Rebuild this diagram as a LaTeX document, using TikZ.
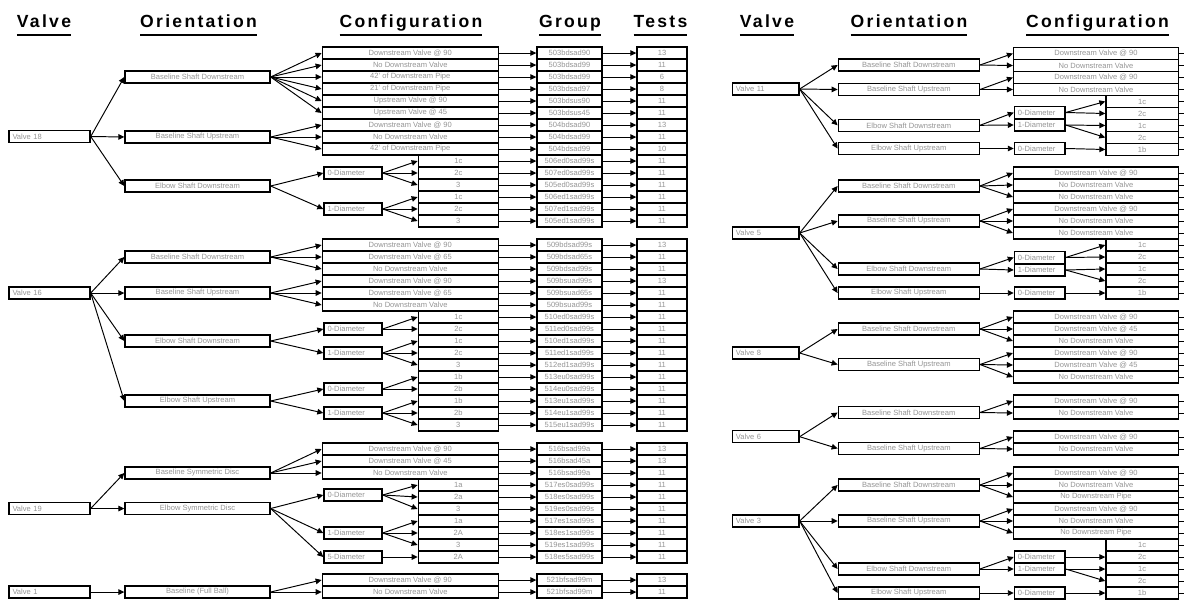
\documentclass[tikz,border=0pt]{standalone}
\usepackage{fontspec}
\setmainfont{Liberation Sans}
\newfontfamily\hdrfont[LetterSpace=13]{Liberation Sans}
\usetikzlibrary{arrows.meta}
\definecolor{boxtext}{gray}{0.58}
\newcommand{\hdr}[1]{\setbox0=\hbox{\hdrfont\bfseries #1}%
  \rlap{\rule[-5.2pt]{\wd0}{1.2pt}}\box0}
\tikzset{
  box/.style={draw, line width=0.8pt, inner sep=0pt, minimum height=0.24cm,
    font=\fontsize{4.3}{5}\selectfont, text=boxtext},
  lvalve/.style={box, text width=1.48cm, align=left, inner xsep=2pt},
  rvalve/.style={box, text width=1.19cm, align=left, inner xsep=2pt},
  ldiam/.style={box, text width=1.02cm, align=left, inner xsep=2pt},
  rdiam/.style={box, text width=0.87cm, align=left, inner xsep=2pt},
  lori/.style={box, minimum width=2.9cm},
  rori/.style={box, minimum width=2.82cm},
  conf/.style={box, anchor=east, minimum width=#1*0.02cm},
  grp/.style={box, minimum width=1.3cm},
  tst/.style={box, minimum width=1cm},
  arr/.style={-{Triangle[length=3.4pt,width=3.2pt]}, line width=0.55pt},
  colhead/.style={anchor=base, inner sep=0pt, font=\fontsize{10}{12}\selectfont}
}
\begin{document}
\begin{tikzpicture}[x=0.02cm,y=-0.02cm]
  \useasboundingbox (0,0) rectangle (1184,602);

  \node[colhead] (hvalve) at (44,27) {\hdr{Valve}};
  \node[colhead] (horient) at (198.5,27) {\hdr{Orientation}};
  \node[colhead] (hconf) at (411,27) {\hdr{Configuration}};
  \node[colhead] (hgroup) at (570,27) {\hdr{Group}};
  \node[colhead] (htests) at (660.5,27) {\hdr{Tests}};
  \node[colhead] (hvalveb) at (767,27) {\hdr{Valve}};
  \node[colhead] (horientb) at (909,27) {\hdr{Orientation}};
  \node[colhead] (hconfb) at (1097.5,27) {\hdr{Configuration}};

  % Valve 18
  \node[lvalve] (v18) at (49.5,136.5) {Valve 18};
  \node[lori] (ao1) at (197.5,77) {Baseline Shaft Downstream};
  \node[lori] (ao2) at (197.5,137) {Baseline Shaft Upstream};
  \node[lori] (ao3) at (197.5,186) {Elbow Shaft Downstream};
  \foreach \w/\txt/\grp/\tst [count=\i] in {
    176/Downstream Valve @ 90/503bdsad90/13,
    176/No Downstream Valve/503bdsad99/11,
    176/42' of Downstream Pipe/503bdsad99/6,
    176/21' of Downstream Pipe/503bdsad97/8,
    176/Upstream Valve @ 90/503bdsus90/11,
    176/Upstream Valve @ 45/503bdsus45/11,
    176/Downstream Valve @ 90/504bdsad90/13,
    176/No Downstream Valve/504bdsad99/11,
    176/42' of Downstream Pipe/504bdsad99/10,
    80/1c/506ed0sad99s/11, 80/2c/507ed0sad99s/11, 80/3/505ed0sad99s/11,
    80/1c/506ed1sad99s/11, 80/2c/507ed1sad99s/11, 80/3/505ed1sad99s/11}
  {
    \node[conf=\w] (a\i) at (499,41+12*\i) {\txt};
    \node[grp] (ag\i) at (569.5,41+12*\i) {\grp};
    \node[tst] (at\i) at (662,41+12*\i) {\tst};
    \draw[arr] (a\i) -- (ag\i);
    \draw[arr] (ag\i) -- (at\i);
  }
  \node[ldiam] (ad0) at (353,173) {0-Diameter};
  \node[ldiam] (ad1) at (353,209) {1-Diameter};
  \foreach \o in {ao1,ao2,ao3} \draw[arr] (v18.east) -- (\o.west);
  \foreach \j in {1,...,6} \draw[arr] (ao1.east) -- (a\j.west);
  \foreach \j in {7,8,9} \draw[arr] (ao2.east) -- (a\j.west);
  \foreach \d in {ad0,ad1} \draw[arr] (ao3.east) -- (\d.west);
  \foreach \j in {10,11,12} \draw[arr] (ad0.east) -- (a\j.west);
  \foreach \j in {13,14,15} \draw[arr] (ad1.east) -- (a\j.west);

  % Valve 16
  \node[lvalve] (v16) at (49.5,293) {Valve 16};
  \node[lori] (bo1) at (197.5,257) {Baseline Shaft Downstream};
  \node[lori] (bo2) at (197.5,293) {Baseline Shaft Upstream};
  \node[lori] (bo3) at (197.5,341) {Elbow Shaft Downstream};
  \node[lori] (bo4) at (197.5,401) {Elbow Shaft Upstream};
  \foreach \w/\txt/\grp/\tst [count=\i] in {
    176/Downstream Valve @ 90/509bdsad99s/13,
    176/Downstream Valve @ 65/509bdsad65s/11,
    176/No Downstream Valve/509bdsad99s/11,
    176/Downstream Valve @ 90/509bsuad99s/13,
    176/Downstream Valve @ 65/509bsuad65s/11,
    176/No Downstream Valve/509bsuad99s/11,
    80/1c/510ed0sad99s/11, 80/2c/511ed0sad99s/11,
    80/1c/510ed1sad99s/11, 80/2c/511ed1sad99s/11, 80/3/512ed1sad99s/11,
    80/1b/513eu0sad99s/11, 80/2b/514eu0sad99s/11,
    80/1b/513eu1sad99s/11, 80/2b/514eu1sad99s/11, 80/3/515eu1sad99s/11}
  {
    \node[conf=\w] (b\i) at (499,233+12*\i) {\txt};
    \node[grp] (bg\i) at (569.5,233+12*\i) {\grp};
    \node[tst] (bt\i) at (662,233+12*\i) {\tst};
    \draw[arr] (b\i) -- (bg\i);
    \draw[arr] (bg\i) -- (bt\i);
  }
  \node[ldiam] (bd0) at (353,329) {0-Diameter};
  \node[ldiam] (bd1) at (353,353) {1-Diameter};
  \node[ldiam] (bd2) at (353,389) {0-Diameter};
  \node[ldiam] (bd3) at (353,413) {1-Diameter};
  \foreach \o in {bo1,bo2,bo3,bo4} \draw[arr] (v16.east) -- (\o.west);
  \foreach \j in {1,2,3} \draw[arr] (bo1.east) -- (b\j.west);
  \foreach \j in {4,5,6} \draw[arr] (bo2.east) -- (b\j.west);
  \foreach \d in {bd0,bd1} \draw[arr] (bo3.east) -- (\d.west);
  \foreach \d in {bd2,bd3} \draw[arr] (bo4.east) -- (\d.west);
  \foreach \j in {7,8} \draw[arr] (bd0.east) -- (b\j.west);
  \foreach \j in {9,10,11} \draw[arr] (bd1.east) -- (b\j.west);
  \foreach \j in {12,13} \draw[arr] (bd2.east) -- (b\j.west);
  \foreach \j in {14,15,16} \draw[arr] (bd3.east) -- (b\j.west);

  % Valve 19
  \node[lvalve] (v19) at (49.5,508.5) {Valve 19};
  \node[lori] (co1) at (197.5,473) {Baseline Symmetric Disc};
  \node[lori] (co2) at (197.5,508.5) {Elbow Symmetric Disc};
  \foreach \w/\txt/\grp/\tst [count=\i] in {
    176/Downstream Valve @ 90/516bsad99a/13,
    176/Downstream Valve @ 45/516bsad45a/13,
    176/No Downstream Valve/516bsad99a/11,
    80/1a/517es0sad99s/11, 80/2a/518es0sad99s/11, 80/3/519es0sad99s/11,
    80/1a/517es1sad99s/11, 80/2A/518es1sad99s/11, 80/3/519es1sad99s/11,
    80/2A/518es5sad99s/11}
  {
    \node[conf=\w] (c\i) at (499,437+12*\i) {\txt};
    \node[grp] (cg\i) at (569.5,437+12*\i) {\grp};
    \node[tst] (ct\i) at (662,437+12*\i) {\tst};
    \draw[arr] (c\i) -- (cg\i);
    \draw[arr] (cg\i) -- (ct\i);
  }
  \node[ldiam] (cd0) at (353,495) {0-Diameter};
  \node[ldiam] (cd1) at (353,533) {1-Diameter};
  \node[ldiam] (cd2) at (353,557) {5-Diameter};
  \foreach \o in {co1,co2} \draw[arr] (v19.east) -- (\o.west);
  \foreach \j in {1,2,3} \draw[arr] (co1.east) -- (c\j.west);
  \foreach \d in {cd0,cd1,cd2} \draw[arr] (co2.east) -- (\d.west);
  \foreach \j in {4,5,6} \draw[arr] (cd0.east) -- (c\j.west);
  \foreach \j in {7,8,9} \draw[arr] (cd1.east) -- (c\j.west);
  \draw[arr] (cd2.east) -- (c10.west);

  % Valve 1
  \node[lvalve] (v1) at (49.5,592) {Valve 1};
  \node[lori] (do1) at (197.5,592) {Baseline (Full Ball)};
  \foreach \txt/\grp/\tst [count=\i] in {
    Downstream Valve @ 90/521bfsad99m/13,
    No Downstream Valve/521bfsad99m/11}
  {
    \node[conf=176] (d\i) at (499,568+12*\i) {\txt};
    \node[grp] (dg\i) at (569.5,568+12*\i) {\grp};
    \node[tst] (dt\i) at (662,568+12*\i) {\tst};
    \draw[arr] (d\i) -- (dg\i);
    \draw[arr] (dg\i) -- (dt\i);
    \draw[arr] (do1.east) -- (d\i.west);
  }
  \draw[arr] (v1.east) -- (do1.west);

  % Valve 11
  \node[rvalve] (v11) at (765.7,89) {Valve 11};
  \node[rori] (eo1) at (908.8,65) {Baseline Shaft Downstream};
  \node[rori] (eo2) at (908.8,89.5) {Baseline Shaft Upstream};
  \node[rori] (eo3) at (908.8,125.3) {Elbow Shaft Downstream};
  \node[rori] (eo4) at (908.8,148.5) {Elbow Shaft Upstream};
  \foreach \w/\txt [count=\i] in {
    164.7/Downstream Valve @ 90, 164.7/No Downstream Valve,
    164.7/Downstream Valve @ 90, 164.7/No Downstream Valve,
    72.3/1c, 72.3/2c, 72.3/1c, 72.3/2c, 72.3/1b}
  {
    \node[conf=\w] (e\i) at (1179,41.5+12*\i) {\txt};
    \draw[line width=0.55pt] (e\i.east) -- ++(5,0);
  }
  \node[rdiam] (ed0) at (1039.7,112.5) {0-Diameter};
  \node[rdiam] (ed1) at (1039.7,125) {1-Diameter};
  \node[rdiam] (ed2) at (1039.7,148.5) {0-Diameter};
  \foreach \o in {eo1,eo2,eo3,eo4} \draw[arr] (v11.east) -- (\o.west);
  \foreach \j in {1,2} \draw[arr] (eo1.east) -- (e\j.west);
  \foreach \j in {3,4} \draw[arr] (eo2.east) -- (e\j.west);
  \foreach \d in {ed0,ed1} \draw[arr] (eo3.east) -- (\d.west);
  \draw[arr] (eo4.east) -- (ed2.west);
  \foreach \j in {5,6} \draw[arr] (ed0.east) -- (e\j.west);
  \foreach \j in {7,8} \draw[arr] (ed1.east) -- (e\j.west);
  \draw[arr] (ed2.east) -- (e9.west);

  % Valve 5
  \node[rvalve] (v5) at (765.7,233) {Valve 5};
  \node[rori] (fo1) at (908.8,186) {Baseline Shaft Downstream};
  \node[rori] (fo2) at (908.8,221) {Baseline Shaft Upstream};
  \node[rori] (fo3) at (908.8,269) {Elbow Shaft Downstream};
  \node[rori] (fo4) at (908.8,293) {Elbow Shaft Upstream};
  \foreach \w/\txt [count=\i] in {
    164.7/Downstream Valve @ 90, 164.7/No Downstream Valve,
    164.7/No Downstream Valve, 164.7/Downstream Valve @ 90,
    164.7/No Downstream Valve, 164.7/No Downstream Valve,
    72.3/1c, 72.3/2c, 72.3/1c, 72.3/2c, 72.3/1b}
  {
    \node[conf=\w] (f\i) at (1179,161+12*\i) {\txt};
    \draw[line width=0.55pt] (f\i.east) -- ++(5,0);
  }
  \node[rdiam] (fd0) at (1039.7,257.5) {0-Diameter};
  \node[rdiam] (fd1) at (1039.7,270) {1-Diameter};
  \node[rdiam] (fd2) at (1039.7,293) {0-Diameter};
  \foreach \o in {fo1,fo2,fo3,fo4} \draw[arr] (v5.east) -- (\o.west);
  \foreach \j in {1,2,3} \draw[arr] (fo1.east) -- (f\j.west);
  \foreach \j in {4,5,6} \draw[arr] (fo2.east) -- (f\j.west);
  \foreach \d in {fd0,fd1} \draw[arr] (fo3.east) -- (\d.west);
  \draw[arr] (fo4.east) -- (fd2.west);
  \foreach \j in {7,8} \draw[arr] (fd0.east) -- (f\j.west);
  \foreach \j in {9,10} \draw[arr] (fd1.east) -- (f\j.west);
  \draw[arr] (fd2.east) -- (f11.west);

  % Valve 8
  \node[rvalve] (v8) at (765.7,353) {Valve 8};
  \node[rori] (go1) at (908.8,329) {Baseline Shaft Downstream};
  \node[rori] (go2) at (908.8,364.5) {Baseline Shaft Upstream};
  \foreach \txt [count=\i] in {Downstream Valve @ 90, Downstream Valve @ 45,
    No Downstream Valve, Downstream Valve @ 90, Downstream Valve @ 45,
    No Downstream Valve}
  {
    \node[conf=164.7] (g\i) at (1179,305+12*\i) {\txt};
    \draw[line width=0.55pt] (g\i.east) -- ++(5,0);
  }
  \foreach \o in {go1,go2} \draw[arr] (v8.east) -- (\o.west);
  \foreach \j in {1,2,3} \draw[arr] (go1.east) -- (g\j.west);
  \foreach \j in {4,5,6} \draw[arr] (go2.east) -- (g\j.west);

  % Valve 6
  \node[rvalve] (v6) at (765.7,436.7) {Valve 6};
  \node[rori] (ho1) at (908.8,412.5) {Baseline Shaft Downstream};
  \node[rori] (ho2) at (908.8,448.5) {Baseline Shaft Upstream};
  \foreach \y/\txt [count=\i] in {401/Downstream Valve @ 90,
    413/No Downstream Valve, 437/Downstream Valve @ 90, 449/No Downstream Valve}
  {
    \node[conf=164.7] (h\i) at (1179,\y) {\txt};
    \draw[line width=0.55pt] (h\i.east) -- ++(5,0);
  }
  \foreach \o in {ho1,ho2} \draw[arr] (v6.east) -- (\o.west);
  \foreach \j in {1,2} \draw[arr] (ho1.east) -- (h\j.west);
  \foreach \j in {3,4} \draw[arr] (ho2.east) -- (h\j.west);

  % Valve 3
  \node[rvalve] (v3) at (765.7,521) {Valve 3};
  \node[rori] (io1) at (908.8,485) {Baseline Shaft Downstream};
  \node[rori] (io2) at (908.8,521) {Baseline Shaft Upstream};
  \node[rori] (io3) at (908.8,569) {Elbow Shaft Downstream};
  \node[rori] (io4) at (908.8,593) {Elbow Shaft Upstream};
  \foreach \w/\txt [count=\i] in {
    164.7/Downstream Valve @ 90, 164.7/No Downstream Valve,
    164.7/No Downstream Pipe, 164.7/Downstream Valve @ 90,
    164.7/No Downstream Valve, 164.7/No Downstream Pipe,
    72.3/1c, 72.3/2c, 72.3/1c, 72.3/2c, 72.3/1b}
  {
    \node[conf=\w] (i\i) at (1179,461+12*\i) {\txt};
    \draw[line width=0.55pt] (i\i.east) -- ++(5,0);
  }
  \node[rdiam] (id0) at (1039.7,557) {0-Diameter};
  \node[rdiam] (id1) at (1039.7,569) {1-Diameter};
  \node[rdiam] (id2) at (1039.7,593) {0-Diameter};
  \foreach \o in {io1,io2,io3,io4} \draw[arr] (v3.east) -- (\o.west);
  \foreach \j in {1,2,3} \draw[arr] (io1.east) -- (i\j.west);
  \foreach \j in {4,5,6} \draw[arr] (io2.east) -- (i\j.west);
  \foreach \d in {id0,id1} \draw[arr] (io3.east) -- (\d.west);
  \draw[arr] (io4.east) -- (id2.west);
  \draw[arr] (id0.east) -- (i8.west);
  \foreach \j in {9,10} \draw[arr] (id1.east) -- (i\j.west);
  \draw[arr] (id2.east) -- (i11.west);
\end{tikzpicture}
\end{document}
